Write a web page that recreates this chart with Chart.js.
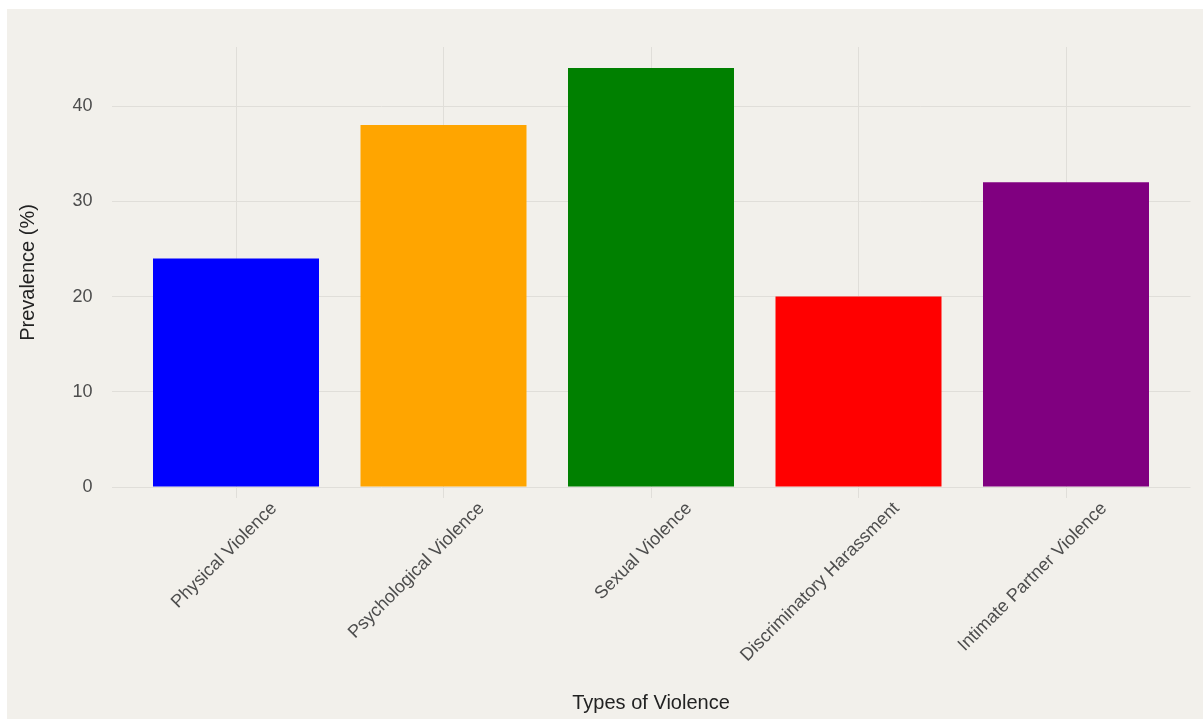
<!DOCTYPE html>
<html>
<head>
<meta charset="utf-8">
<title>Prevalence by Type of Violence</title>
<script src="https://cdn.jsdelivr.net/npm/chart.js@4.4.1/dist/chart.umd.min.js"></script>
<style>
  html, body { margin: 0; padding: 0; background: #ffffff; }
  #frame {
    position: absolute; left: 7px; top: 9px;
    width: 1196px; height: 710px;
    background: #f2f0eb;
  }
  canvas { display: block; }
</style>
</head>
<body>
<div id="frame"><canvas id="chart" width="1196" height="710"></canvas></div>
<script>
// Categories and prevalence values (%)
const categories = [
  "Physical Violence",
  "Psychological Violence",
  "Sexual Violence",
  "Discriminatory Harassment",
  "Intimate Partner Violence"
];
const prevalence = [24, 38, 44, 20, 32];
const barColors = ["#0000ff", "#ffa500", "#008000", "#ff0000", "#800080"];
const yTicks = [0, 10, 20, 30, 40];

const positions = categories.map((_, i) => i + 1);
const points = positions.map((x, i) => ({ x: x, y: prevalence[i] }));

const labelFont = { family: "'Liberation Sans', Arial, sans-serif", size: 18 };
const titleFont = { family: "'Liberation Sans', Arial, sans-serif", size: 20 };
const gridColor = "#e0ded9";

new Chart(document.getElementById("chart"), {
  type: "bar",
  data: {
    datasets: [{
      data: points,
      backgroundColor: barColors,
      borderWidth: 0,
      barPercentage: 0.8,
      categoryPercentage: 1.0
    }]
  },
  options: {
    responsive: false,
    animation: false,
    layout: { padding: { left: 0, top: 38, right: 12.5, bottom: 0 } },
    plugins: { legend: { display: false }, tooltip: { enabled: false } },
    scales: {
      x: {
        type: "linear",
        offset: false,
        min: 0.4,
        max: 5.6,
        afterBuildTicks: (axis) => { axis.ticks = positions.map(v => ({ value: v })); },
        afterFit: (axis) => { axis.height = 221; },
        grid: { color: gridColor, lineWidth: 1, drawTicks: false, offset: false },
        border: { display: false },
        ticks: {
          autoSkip: false,
          maxRotation: 45,
          minRotation: 45,
          padding: 0,
          labelOffset: 38,
          color: "#4d4d4d",
          font: labelFont,
          callback: (value) => categories[value - 1] || ""
        },
        title: {
          display: true,
          text: "Types of Violence",
          color: "#222222",
          font: titleFont,
          padding: { top: 0, bottom: 4 }
        }
      },
      y: {
        min: -1.15,
        max: 46.2,
        afterBuildTicks: (axis) => { axis.ticks = yTicks.map(v => ({ value: v })); },
        afterFit: (axis) => { axis.width = 104.5; },
        grid: { color: gridColor, lineWidth: 1, drawTicks: false },
        border: { display: false },
        ticks: {
          padding: 19,
          color: "#4d4d4d",
          font: labelFont,
          callback: (value) => String(value)
        },
        title: {
          display: true,
          text: "Prevalence (%)",
          color: "#222222",
          font: titleFont,
          padding: { top: 9, bottom: 0 }
        }
      }
    }
  }
});
</script>
</body>
</html>
